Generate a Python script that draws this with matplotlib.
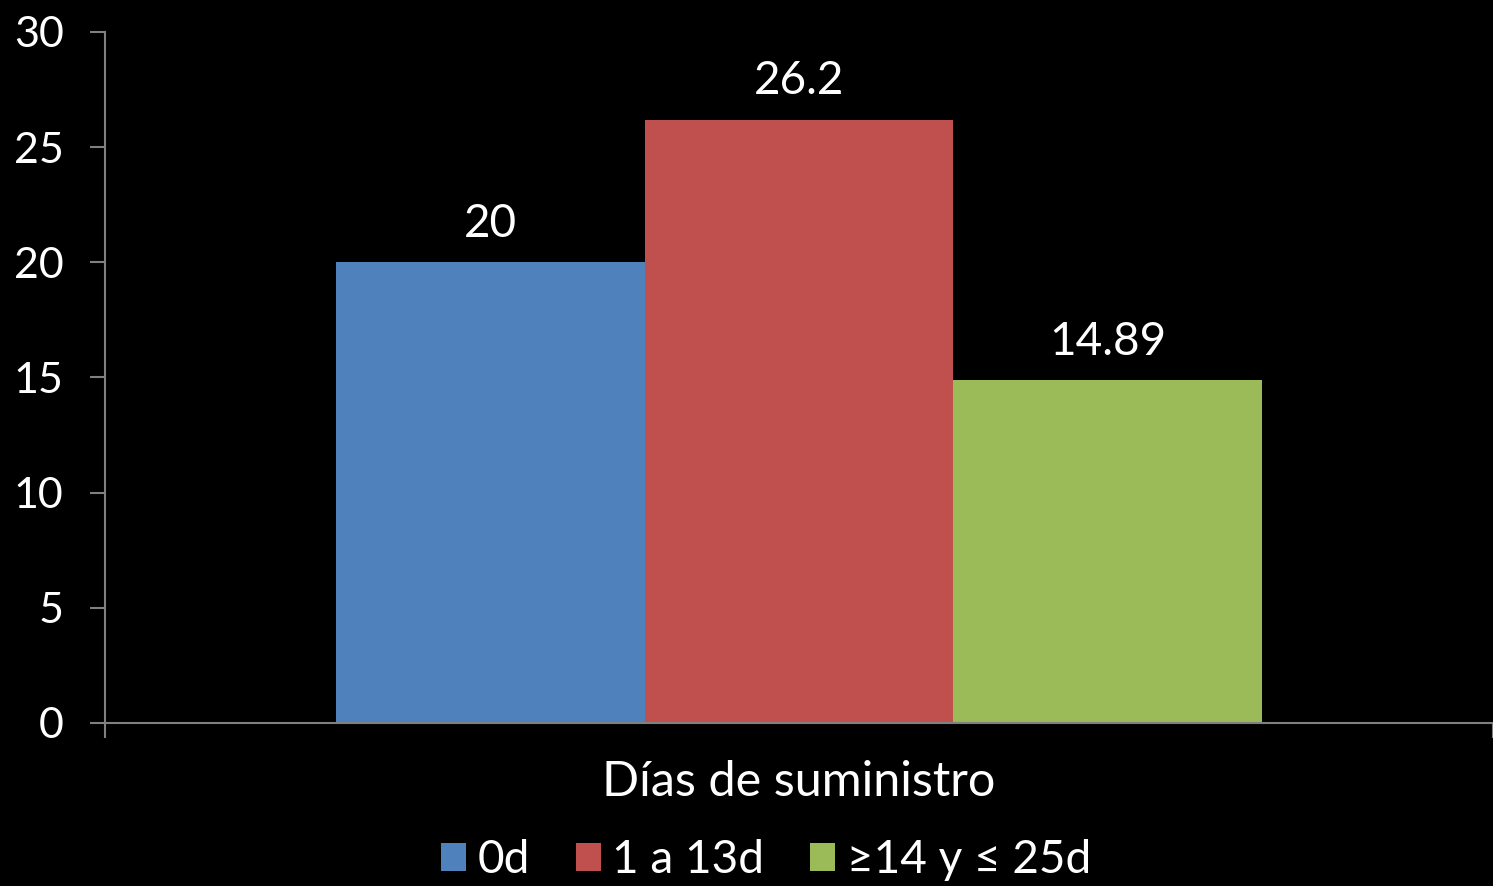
import matplotlib
matplotlib.use("Agg")
import matplotlib.pyplot as plt

categories = ["Días de suministro"]
series_names = ["0d", "1 a 13d", "≥14 y ≤ 25d"]
values = [20, 26.2, 14.89]
value_labels = ["20", "26.2", "14.89"]
colors = ["#4f81bd", "#c0504d", "#9bbb59"]
yticks = [0, 5, 10, 15, 20, 25, 30]

plt.rcParams['font.family'] = ['Lato', 'DejaVu Sans']

fig = plt.figure(figsize=(14.93, 8.86), dpi=100, facecolor="black")
ax = fig.add_axes([105/1493, 1 - 723/886, 1388/1493, (723-32)/886])
ax.set_facecolor("black")

bw = 0.2226
offsets = [-bw, 0, bw]
for name, v, lab, c, off in zip(series_names, values, value_labels, colors, offsets):
    ax.bar(off, v, width=bw, color=c, label=name, linewidth=0)
    ax.text(off, v + 0.75, lab, ha="center", va="bottom", color="white", fontsize=33)

ax.set_xlim(-0.5, 0.5)
ax.set_ylim(0, 30)
ax.set_yticks(yticks)
ax.set_yticklabels([str(t) for t in yticks], fontsize=31, color="white")
ax.set_xticks([-0.5, 0.5])
ax.set_xticklabels(["", ""])
ax.tick_params(axis="both", color="#808080", length=10.8, width=1.5, pad=19)
for s in ["top", "right"]:
    ax.spines[s].set_visible(False)
for s in ["left", "bottom"]:
    ax.spines[s].set_color("#808080")
    ax.spines[s].set_linewidth(1.5)

fig.text(799/1493, 1 - 782/886, categories[0], ha="center", va="center", color="white", fontsize=35)

leg = fig.legend(loc="center", bbox_to_anchor=(766/1493, 1 - 860/886), ncol=3, frameon=False,
                 fontsize=33, labelcolor="white", handlelength=0.55, handleheight=0.55,
                 handletextpad=0.25, columnspacing=1.0)

fig.savefig("out.png", dpi=100, facecolor="black")
